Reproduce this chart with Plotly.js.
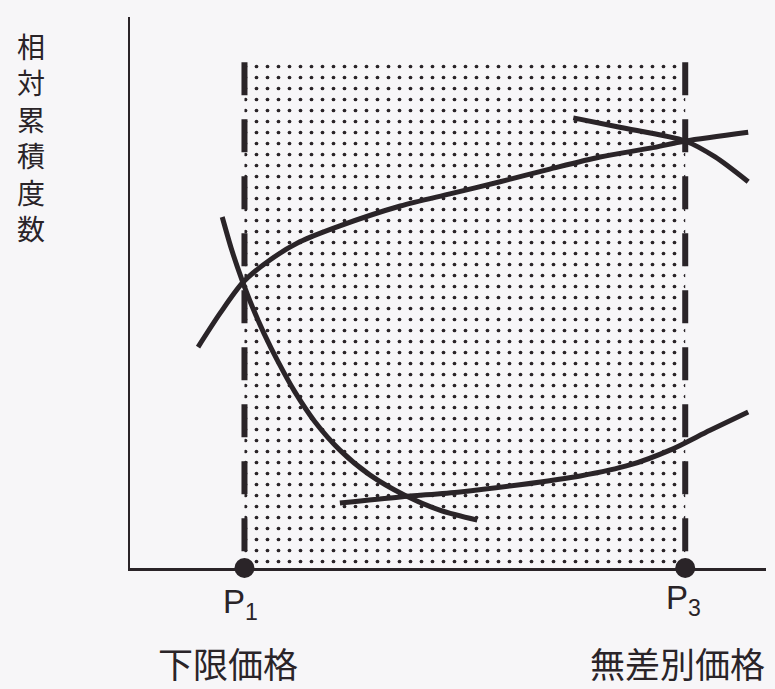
<!DOCTYPE html>
<html>
<head>
<meta charset="utf-8">
<script src="https://cdn.plot.ly/plotly-3.0.1.min.js"></script>
<style>
  html, body { margin: 0; padding: 0; background: #f7f6f8; }
  #chart { width: 775px; height: 689px; }
</style>
</head>
<body>
<div id="chart"></div>
<script>
// Price points (x, arbitrary price units) and shaded range top (relative cumulative frequency)
const priceP1 = 18.0;
const priceP3 = 87.3;
const shadeTop = 91.8;

// Curve: "not cheap" (rising, top)
const curveAx = [10.7, 14.2, 17.8, 22.0, 26.7, 33.0, 42.5, 50.3, 58.2, 66.0, 73.9, 81.8, 87.3, 97.2];
const curveAy = [40.1, 46.3, 51.9, 55.9, 59.2, 62.1, 65.7, 67.9, 70.1, 72.4, 74.6, 76.2, 77.5, 79.1];

// Curve: "too cheap" (falling, left)
const curveBx = [14.5, 16.0, 17.6, 19.2, 21.1, 23.3, 25.9, 29.1, 33.0, 37.7, 43.2, 48.7, 54.6];
const curveBy = [63.7, 57.7, 52.3, 47.5, 42.5, 37.4, 32.0, 26.5, 21.4, 16.9, 13.2, 10.5, 8.7];

// Curve: "expensive" (rising, bottom)
const curveCx = [33.0, 42.5, 51.9, 61.3, 70.8, 78.6, 84.9, 91.2, 97.2];
const curveCy = [11.8, 12.9, 13.8, 15.1, 16.7, 18.7, 21.4, 25.0, 28.3];

// Curve: "not expensive" (falling, top right)
const curveDx = [69.7, 77.0, 87.3, 92.0, 97.2];
const curveDy = [81.7, 80.0, 77.5, 74.6, 70.1];

// Labels
const pointLabels = ['P<sub>1</sub>', 'P<sub>3</sub>'];
const priceLabels = ['下限価格', '無差別価格'];
const yTitle = '相対累積度数';

const bg = '#f7f6f8';
const ink = '#2a2428';

const curveStyle = { color: ink, width: 5, shape: 'spline', smoothing: 0.8 };

const traces = [
  {
    x: [priceP1, priceP3, priceP3, priceP1, priceP1],
    y: [0, 0, shadeTop, shadeTop, 0],
    mode: 'lines', fill: 'toself',
    line: { width: 0, color: 'rgba(0,0,0,0)' },
    fillcolor: bg,
    fillpattern: { shape: '.', size: 11, solidity: 0.09, fgcolor: ink, bgcolor: bg, fillmode: 'replace' },
    hoverinfo: 'skip', showlegend: false
  },
  {
    x: [priceP1, priceP1], y: [shadeTop, 0], mode: 'lines',
    line: { color: ink, width: 6, dash: '33px,24px' }, showlegend: false, hoverinfo: 'skip'
  },
  {
    x: [priceP3, priceP3], y: [shadeTop, 0], mode: 'lines',
    line: { color: ink, width: 6, dash: '33px,24px' }, showlegend: false, hoverinfo: 'skip'
  },
  { x: curveAx, y: curveAy, mode: 'lines', line: curveStyle, showlegend: false },
  { x: curveBx, y: curveBy, mode: 'lines', line: curveStyle, showlegend: false },
  { x: curveCx, y: curveCy, mode: 'lines', line: curveStyle, showlegend: false },
  { x: curveDx, y: curveDy, mode: 'lines', line: curveStyle, showlegend: false },
  {
    x: [priceP1, priceP3], y: [0, 0], mode: 'markers', cliponaxis: false,
    marker: { color: ink, size: 20 }, showlegend: false
  }
];

const cjk = '"Noto Sans CJK JP", "Noto Sans CJK SC", sans-serif';
const latin = '"Liberation Sans", Arial, sans-serif';

const annotations = [
  { x: priceP1 - 0.6, y: -0.065, xref: 'x', yref: 'paper', text: pointLabels[0], showarrow: false,
    xanchor: 'center', yanchor: 'middle', font: { family: latin, size: 33, color: ink } },
  { x: priceP3 - 0.3, y: -0.058, xref: 'x', yref: 'paper', text: pointLabels[1], showarrow: false,
    xanchor: 'center', yanchor: 'middle', font: { family: latin, size: 33, color: ink } },
  { x: priceP1 - 2.6, y: -0.172, xref: 'x', yref: 'paper', text: priceLabels[0], showarrow: false,
    xanchor: 'center', yanchor: 'middle', font: { family: cjk, size: 35, color: ink } },
  { x: priceP3 - 1.2, y: -0.171, xref: 'x', yref: 'paper', text: priceLabels[1], showarrow: false,
    xanchor: 'center', yanchor: 'middle', font: { family: cjk, size: 35, color: ink } },
  { x: -0.156, y: 0.782, xref: 'paper', yref: 'paper', text: yTitle.split('').join('<br>'),
    showarrow: false, xanchor: 'center', yanchor: 'middle', font: { family: cjk, size: 28, color: ink } }
];

const layout = {
  width: 775, height: 689,
  margin: { l: 130, r: 9, t: 17, b: 121 },
  paper_bgcolor: bg, plot_bgcolor: bg,
  showlegend: false,
  xaxis: { range: [0, 100], showline: true, linewidth: 2.5, linecolor: ink, showgrid: false,
           zeroline: false, showticklabels: false, ticks: '', fixedrange: true },
  yaxis: { range: [0, 100], showline: true, linewidth: 2.5, linecolor: ink, showgrid: false,
           zeroline: false, showticklabels: false, ticks: '', fixedrange: true },
  annotations: annotations
};

Plotly.newPlot('chart', traces, layout, { displayModeBar: false, staticPlot: true });
</script>
</body>
</html>
